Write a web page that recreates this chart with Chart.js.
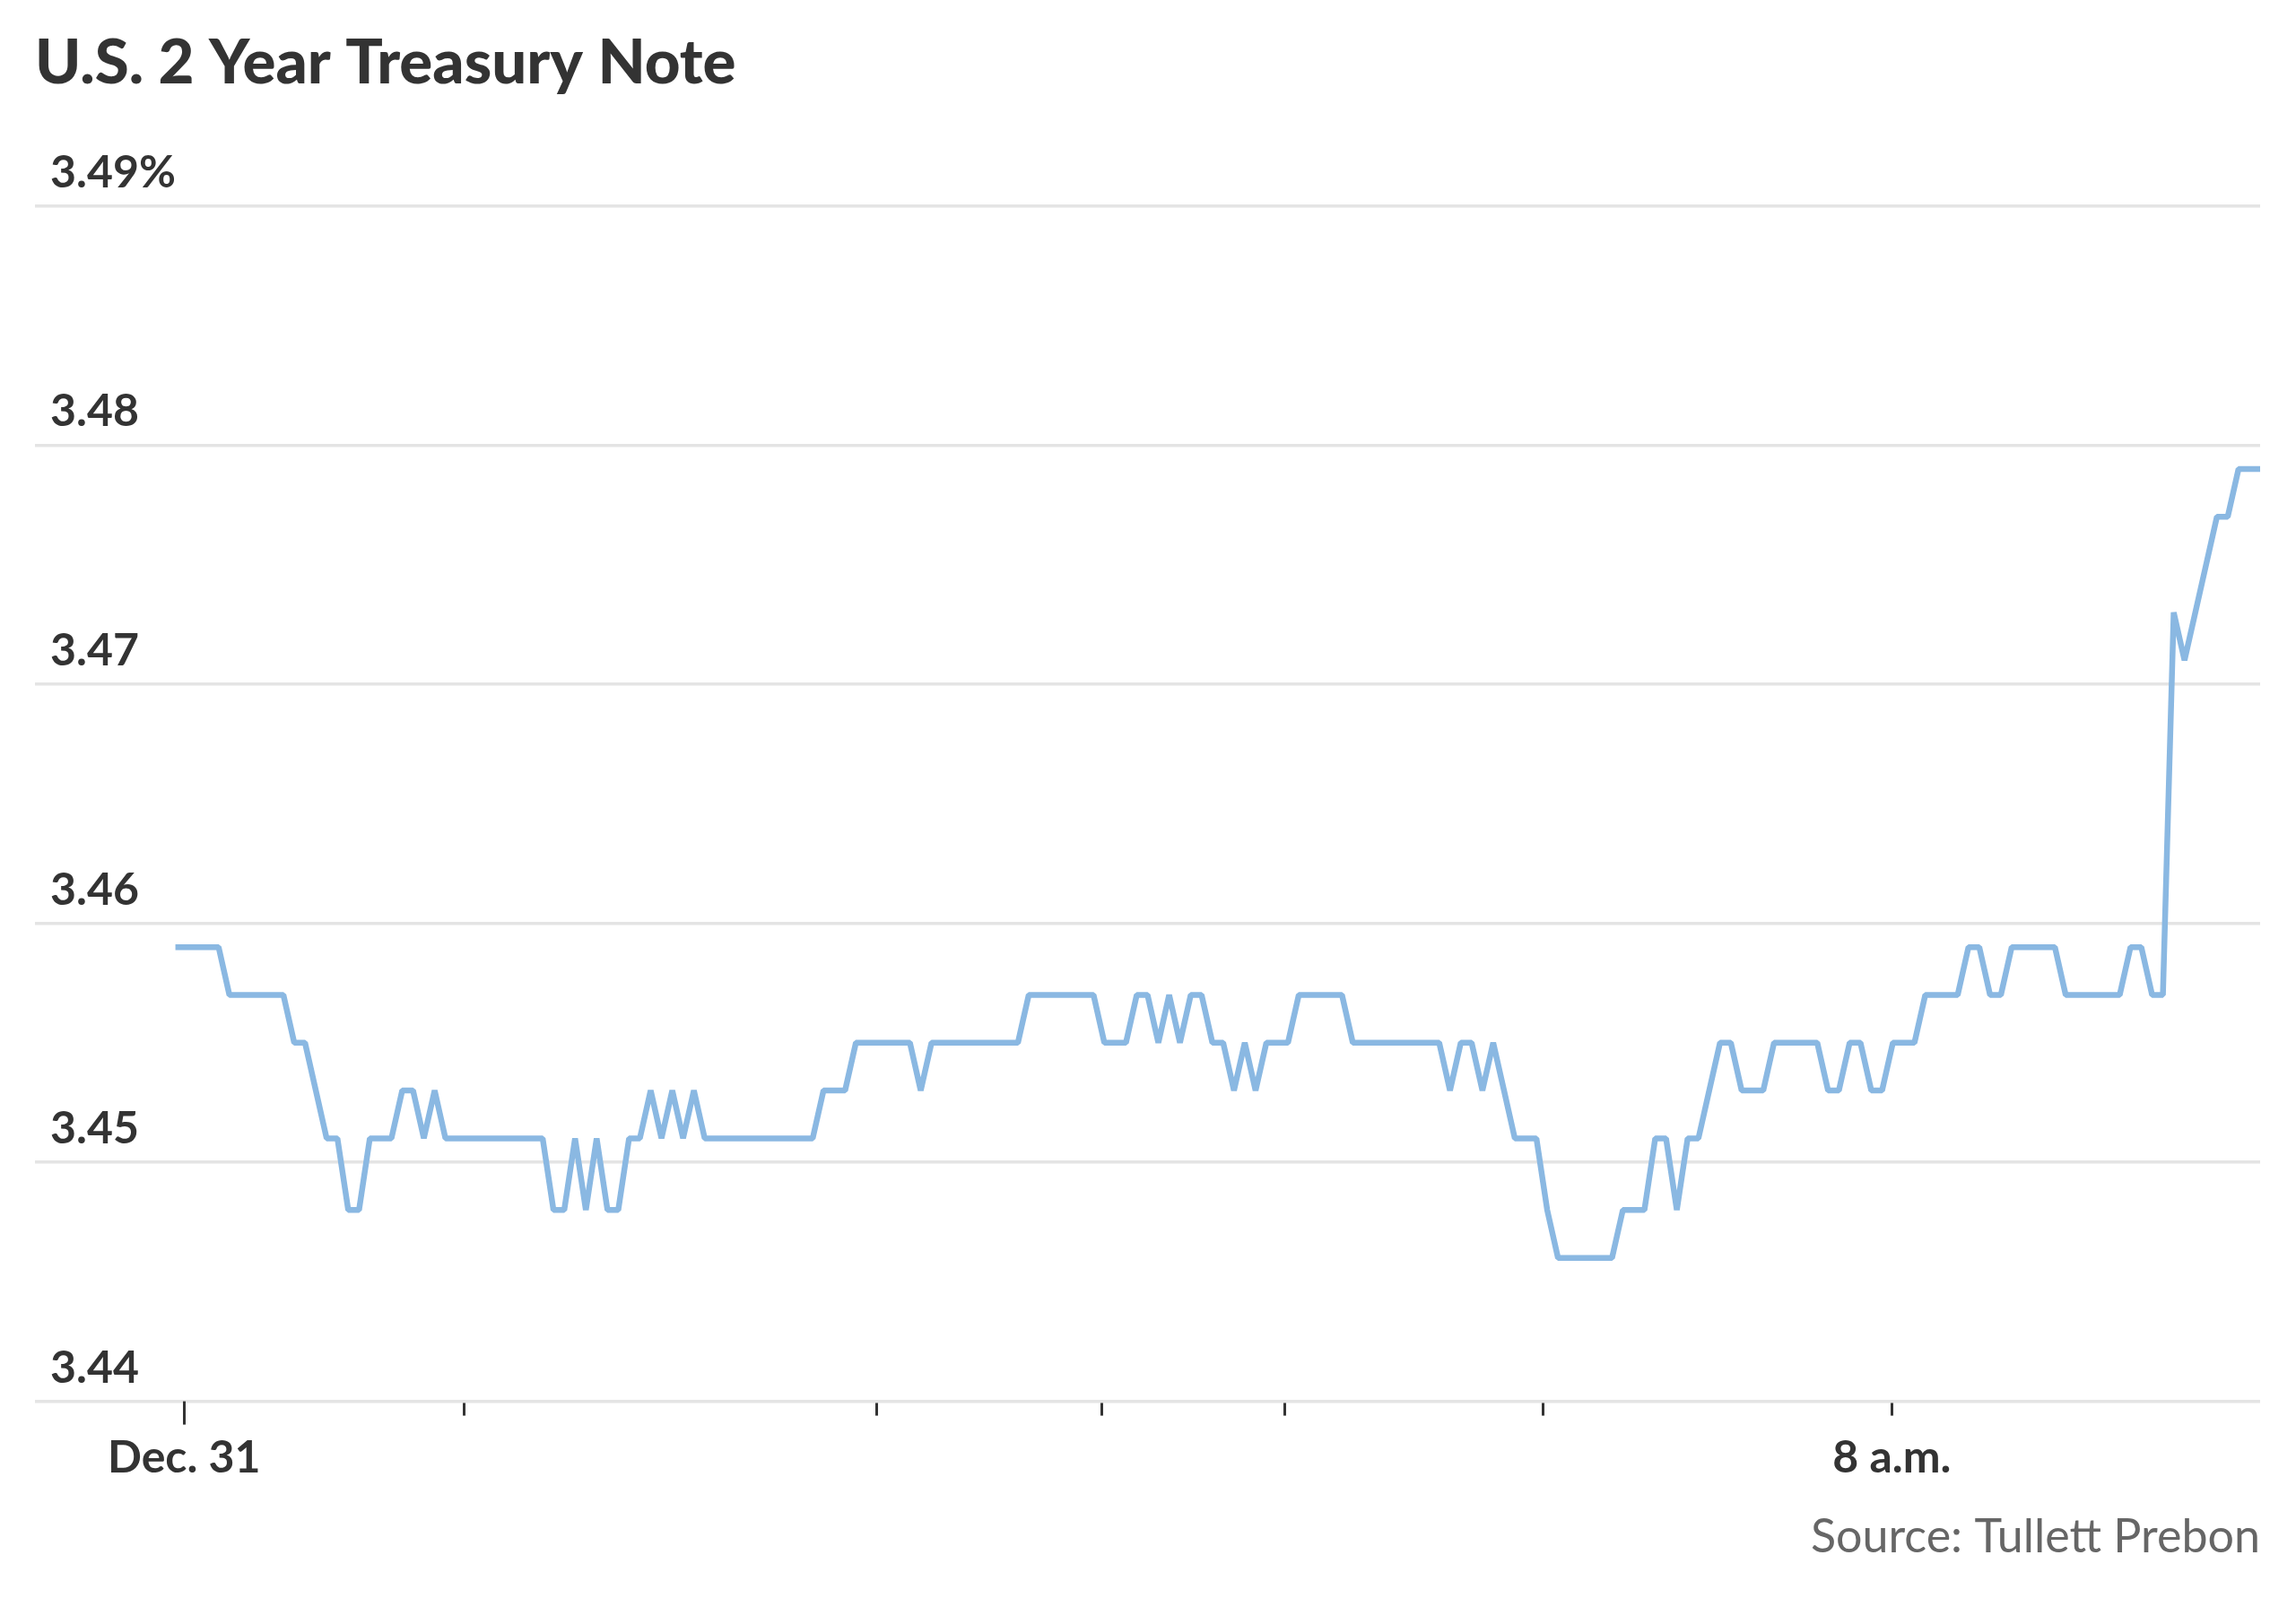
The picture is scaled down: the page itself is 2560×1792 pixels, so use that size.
<!DOCTYPE html>
<html>
<head>
<meta charset="utf-8">
<script src="https://cdn.jsdelivr.net/npm/chart.js@4.4.1/dist/chart.umd.min.js"></script>
<style>
html,body{margin:0;padding:0;background:#ffffff;}
#wrap{width:2560px;height:1792px;position:relative;}
canvas{display:block;}
</style>
</head>
<body>
<div id="wrap"><canvas id="c" width="2560" height="1792"></canvas></div>
<script>
// ---- data ----
const titleText = 'U.S. 2 Year Treasury Note';
const sourceText = 'Source: Tullett Prebon';

const yields = [
  3.459,3.459,3.459,3.459,3.459,3.457,3.457,3.457,3.457,3.457,
  3.457,3.455,3.455,3.453,3.451,3.451,3.448,3.448,3.451,3.451,
  3.451,3.453,3.453,3.451,3.453,3.451,3.451,3.451,3.451,3.451,
  3.451,3.451,3.451,3.451,3.451,3.448,3.448,3.451,3.448,3.451,
  3.448,3.448,3.451,3.451,3.453,3.451,3.453,3.451,3.453,3.451,
  3.451,3.451,3.451,3.451,3.451,3.451,3.451,3.451,3.451,3.451,
  3.453,3.453,3.453,3.455,3.455,3.455,3.455,3.455,3.455,3.453,
  3.455,3.455,3.455,3.455,3.455,3.455,3.455,3.455,3.455,3.457,
  3.457,3.457,3.457,3.457,3.457,3.457,3.455,3.455,3.455,3.457,
  3.457,3.455,3.457,3.455,3.457,3.457,3.455,3.455,3.453,3.455,
  3.453,3.455,3.455,3.455,3.457,3.457,3.457,3.457,3.457,3.455,
  3.455,3.455,3.455,3.455,3.455,3.455,3.455,3.455,3.453,3.455,
  3.455,3.453,3.455,3.453,3.451,3.451,3.451,3.448,3.446,3.446,
  3.446,3.446,3.446,3.446,3.448,3.448,3.448,3.451,3.451,3.448,
  3.451,3.451,3.453,3.455,3.455,3.453,3.453,3.453,3.455,3.455,
  3.455,3.455,3.455,3.453,3.453,3.455,3.455,3.453,3.453,3.455,
  3.455,3.455,3.457,3.457,3.457,3.457,3.459,3.459,3.457,3.457,
  3.459,3.459,3.459,3.459,3.459,3.457,3.457,3.457,3.457,3.457,
  3.457,3.459,3.459,3.457,3.457,3.473,3.471,3.473,3.475,3.477,
  3.477,3.479,3.479,3.479
];

const yTicks = [3.44, 3.45, 3.46, 3.47, 3.48, 3.49];
const yTickLabels = ['3.44', '3.45', '3.46', '3.47', '3.48', '3.49%'];

// x tick positions in sample-index units, and their labels
const xTickAt = [0.8, 26.7, 64.9, 85.8, 102.7, 126.6, 158.9];
const xTickLabels = ['Dec. 31', '', '', '', '', '', '8 a.m.'];

// ---- chart ----
const TEXT = '#333333';
const FONT = 'Lato, "Open Sans", sans-serif';

const majorTickPlugin = {
  id: 'majorTick',
  afterDraw(chart) {
    const s = chart.scales.x;
    const ctx = chart.ctx;
    const px = Math.round(s.getPixelForValue(xTickAt[0])) + 0.5;
    ctx.save();
    ctx.strokeStyle = TEXT;
    ctx.lineWidth = 3;
    ctx.beginPath();
    ctx.moveTo(px, s.top);
    ctx.lineTo(px, s.top + 26);
    ctx.stroke();
    ctx.restore();
  }
};

new Chart(document.getElementById('c'), {
  type: 'line',
  data: {
    datasets: [{
      data: yields.map((v, i) => ({ x: i, y: v })),
      borderColor: '#8ab8e2',
      borderWidth: 6.5,
      borderJoinStyle: 'bevel',
      pointRadius: 0,
      tension: 0,
      fill: false
    }]
  },
  options: {
    responsive: false,
    animation: false,
    devicePixelRatio: 1,
    layout: { padding: { left: 39, right: 40, top: 0, bottom: 47 } },
    plugins: {
      legend: { display: false },
      tooltip: { enabled: false },
      title: {
        display: true,
        text: titleText,
        align: 'start',
        color: TEXT,
        font: { family: FONT, size: 69, weight: '900' },
        padding: { top: 29, bottom: 118 }
      },
      subtitle: {
        display: true,
        text: sourceText,
        position: 'bottom',
        align: 'end',
        color: '#666666',
        font: { family: FONT, size: 52, weight: '400' },
        padding: { top: 10, bottom: 0 }
      }
    },
    scales: {
      x: {
        type: 'linear',
        min: -13,
        max: yields.length - 1,
        afterBuildTicks: s => { s.ticks = xTickAt.map(v => ({ value: v })); },
        ticks: {
          autoSkip: false,
          maxRotation: 0,
          padding: 17,
          color: TEXT,
          font: { family: FONT, size: 50, weight: 'bold' },
          callback: (v, i) => xTickLabels[i]
        },
        grid: {
          drawOnChartArea: false,
          drawTicks: true,
          tickLength: 16,
          tickColor: TEXT,
          tickWidth: 3
        },
        border: { display: false }
      },
      y: {
        type: 'linear',
        min: yTicks[0],
        max: yTicks[yTicks.length - 1],
        afterBuildTicks: s => { s.ticks = yTicks.map(v => ({ value: v })); },
        afterFit: s => { s.width = 0; },
        ticks: {
          mirror: true,
          padding: 17,
          labelOffset: -37,
          color: TEXT,
          font: { family: FONT, size: 50, weight: 'bold' },
          callback: (v, i) => yTickLabels[i]
        },
        grid: {
          color: '#e4e4e4',
          lineWidth: 3.5,
          drawTicks: false
        },
        border: { display: false }
      }
    }
  },
  plugins: [majorTickPlugin]
});
</script>
</body>
</html>
